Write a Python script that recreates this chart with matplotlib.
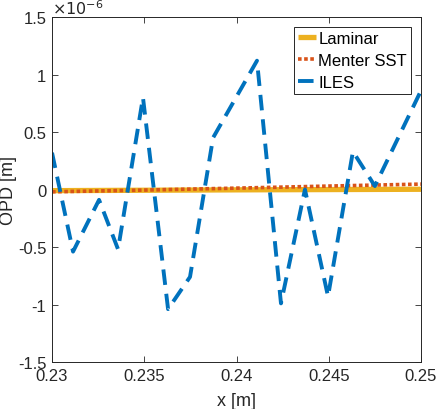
import matplotlib
matplotlib.use("Agg")
import matplotlib.pyplot as plt
from matplotlib.ticker import FuncFormatter
from matplotlib import font_manager

# OPD values in units of 1e-6 m
iles_x = [0.23, 0.23114, 0.23255, 0.23358, 0.23493, 0.23629, 0.23748, 0.23873,
          0.24111, 0.24241, 0.24371, 0.24496, 0.24631, 0.2475, 0.25]
iles_opd = [0.32, -0.54, -0.09, -0.52, 0.80, -1.04, -0.76, 0.45,
            1.12, -0.99, 0.0, -0.93, 0.33, 0.03, 0.86]

laminar_x = [0.23, 0.24, 0.25]
laminar_opd = [-0.01, -0.003, 0.002]

menter_x = [0.23, 0.235, 0.24, 0.245, 0.25]
menter_opd = [-0.02, -0.005, 0.012, 0.03, 0.047]

x_ticks = [0.23, 0.235, 0.24, 0.245, 0.25]
y_ticks = [-1.5, -1, -0.5, 0, 0.5, 1, 1.5]

names = {f.name for f in font_manager.fontManager.ttflist}
narrow = "Liberation Sans Narrow" if "Liberation Sans Narrow" in names else "Liberation Sans"
plt.rcParams["font.family"] = [narrow, "DejaVu Sans"]
ink = "#262626"

fig = plt.figure(figsize=(4.36, 4.10), dpi=100)
ax = fig.add_axes([0.1193, 0.1146, 0.8463, 0.8415])

ax.plot(laminar_x, laminar_opd, color="#EDB120", linewidth=3.8, label="Laminar",
        solid_capstyle="butt")
ax.plot(menter_x, menter_opd, color="#D95319", linewidth=2.6, dashes=(1.0, 0.7),
        label="Menter SST")
ax.plot(iles_x, iles_opd, color="#0072BD", linewidth=2.8, dashes=(4.0, 2.3),
        label="ILES")

ax.set_xlim(0.23, 0.25)
ax.set_ylim(-1.5, 1.5)
ax.set_xticks(x_ticks)
ax.set_yticks(y_ticks)
ax.xaxis.set_major_formatter(FuncFormatter(lambda v, p: f"{v:g}"))
ax.yaxis.set_major_formatter(FuncFormatter(lambda v, p: f"{v:g}".replace("\u2212", "-")))
ax.tick_params(direction="in", top=True, right=True, length=4, width=0.6,
               labelsize=12, colors=ink, pad=4)
for s in ax.spines.values():
    s.set_color(ink)
    s.set_linewidth(0.7)

ax.set_xlabel("x [m]", fontsize=13, color=ink, labelpad=7)
ax.set_ylabel("OPD [m]", fontsize=13, color=ink, labelpad=1)
ax.text(0.0, 1.0, r"$\times10^{-6}$", transform=ax.transAxes, fontsize=11.5,
        color=ink, ha="left", va="bottom")

leg = ax.legend(loc="upper right", fontsize=12, handlelength=1.1, handletextpad=0.12,
                labelspacing=0.42, borderpad=0.25, borderaxespad=0.6, fancybox=False,
                framealpha=1)
leg.get_frame().set_edgecolor(ink)
leg.get_frame().set_linewidth(0.7)

fig.savefig("out.png", dpi=100)
